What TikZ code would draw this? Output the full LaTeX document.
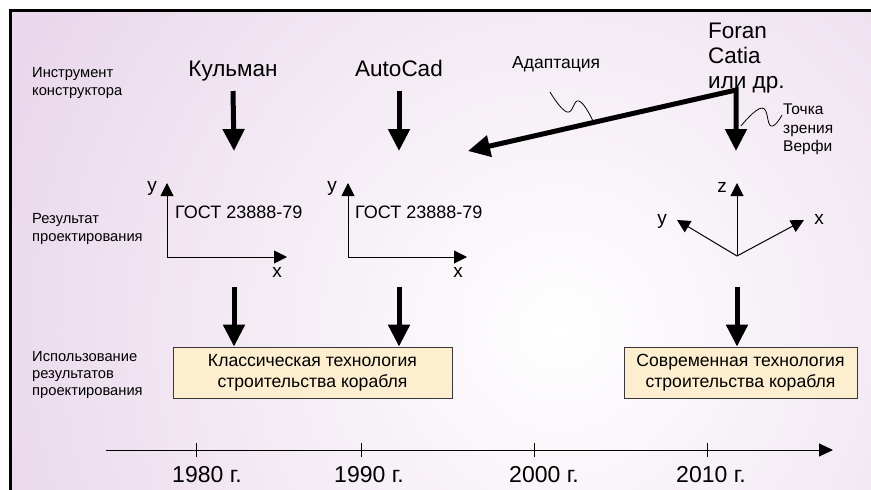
\documentclass[tikz,border=0pt]{standalone}
\usepackage{fontspec}
\setmainfont{Liberation Sans}
\usetikzlibrary{arrows.meta,positioning}

\definecolor{bgpink}{RGB}{233,216,235}
\definecolor{boxfill}{RGB}{253,238,208}
\definecolor{boxline}{RGB}{55,55,55}

\begin{document}
\begin{tikzpicture}[x=1pt,y=-1pt,
        every node/.style={inner sep=0pt},
        rowlabel/.style={anchor=west, align=left, font=\fontsize{14.7}{17.3}\selectfont},
        tool/.style={font=\fontsize{22.5}{25}\selectfont},
        note/.style={align=left, font=\fontsize{15.5}{18.5}\selectfont},
        gost/.style={anchor=base west, font=\fontsize{18}{20}\selectfont},
        axlabel/.style={anchor=base, font=\fontsize{19}{20}\selectfont},
        techbox/.style={draw=boxline, fill=boxfill, line width=0.8pt, align=center,
            minimum height=51pt, font=\fontsize{17.6}{21}\selectfont},
        year/.style={anchor=base, font=\fontsize{23}{24}\selectfont},
        bigarrow/.style={-{Triangle[width=21pt,length=22pt]}, line width=5pt},
        axis/.style={-{Triangle[width=13pt,length=13pt]}, line width=1pt},
        wiggle/.style={line width=0.8pt}
    ]

    % background and frame
    \useasboundingbox (0,0) rectangle (871,490);
    \begin{scope}
        \clip (10,10) rectangle (871,490);
        \shade[inner color=white, outer color=bgpink] (-40,-270) rectangle (1160,930);
    \end{scope}
    \draw[line width=3pt] (10,490) -- (10,10) -- (871,10);

    % row labels
    \node[rowlabel] (toollbl) at (32,83)  {Инструмент\\конструктора};
    \node[rowlabel] (reslbl)  at (32,229) {Результат\\проектирования};
    \node[rowlabel] (uselbl)  at (32,375) {Использование\\результатов\\проектирования};

    % tools
    \node[tool, anchor=base] (kulman)  at (233,76) {Кульман};
    \node[tool, anchor=base] (autocad) at (399,76) {AutoCad};
    \node[tool, anchor=north west, align=left] (foran) at (708,22.5) {Foran\\Catia\\или др.};
    \node[anchor=base west, font=\fontsize{17.5}{20}\selectfont] (adapt) at (512,68) {Адаптация};
    \node[note, anchor=north west] (verfi) at (783,104) {Точка\\зрения\\Верфи};

    \coordinate (ktip) at (234,151);
    \coordinate (atip) at (399,151);
    \coordinate (bend) at (736,90);
    \coordinate (ftip) at (736,151);
    \coordinate (adtip) at (468,151);

    \draw[bigarrow] (kulman.south |- 0,91) -- (ktip);
    \draw[bigarrow] (autocad.south |- 0,91) -- (atip);
    \draw[{Triangle[width=21pt,length=22pt]}-{Triangle[width=21pt,length=22pt]},
        line width=5pt] (adtip) -- (bend) -- (ftip);

    % pointer squiggles
    \draw[wiggle] plot[smooth, tension=0.8] coordinates {(550,92) (567,112) (579,101) (593,121)};
    \draw[wiggle] plot[smooth, tension=0.8] coordinates {(741,126) (762,108) (771,126) (782,115)};

    % design results: axes
    \coordinate (o1) at (167,257);
    \coordinate (o2) at (348,257);
    \coordinate (o3) at (737,256);
    \draw[axis] (o1) -- (167,183);
    \draw[axis] (o1) -- (287,257);
    \draw[axis] (o2) -- (348,183);
    \draw[axis] (o2) -- (467,257);
    \draw[axis] (o3) -- (737,183);
    \draw[axis] (o3) -- (804,220);
    \draw[axis] (o3) -- (677,220);

    \node[axlabel] (y1) at (152,191) {y};
    \node[axlabel] (x1) at (277,277) {x};
    \node[axlabel] (y2) at (332,191) {y};
    \node[axlabel] (x2) at (458,277) {x};
    \node[axlabel] (z3) at (722,192) {z};
    \node[axlabel] (y3) at (662,224) {y};
    \node[axlabel] (x3) at (819,224) {x};

    \node[gost] (gost1) at (175,218) {ГОСТ 23888-79};
    \node[gost] (gost2) at (355,218) {ГОСТ 23888-79};

    % use of results
    \node[techbox, minimum width=279pt] (classic) at (312.5,372.5)
        {Классическая технология\\строительства корабля};
    \node[techbox, minimum width=233pt] (modern) at (740.5,372.5)
        {Современная технология\\строительства корабля};

    \draw[bigarrow] (234,287) -- (classic.north -| 234,0);
    \draw[bigarrow] (399,287) -- (classic.north -| 399,0);
    \draw[bigarrow] (737,287) -- (modern.north -| 737,0);

    % time axis
    \coordinate (tstart) at (106,450);
    \coordinate (tend) at (833,450);
    \draw[-{Triangle[width=13pt,length=14pt]}, line width=1pt] (tstart) -- (tend);
    \foreach \yr/\tx/\lx in {1980/196/207, 1990/361/369, 2000/534/544, 2010/707/711}{
        \draw[line width=1pt] (\tx,443) -- (\tx,457);
        \node[year] (yr\yr) at (\lx,482) {\yr\ г.};
    }
\end{tikzpicture}
\end{document}
